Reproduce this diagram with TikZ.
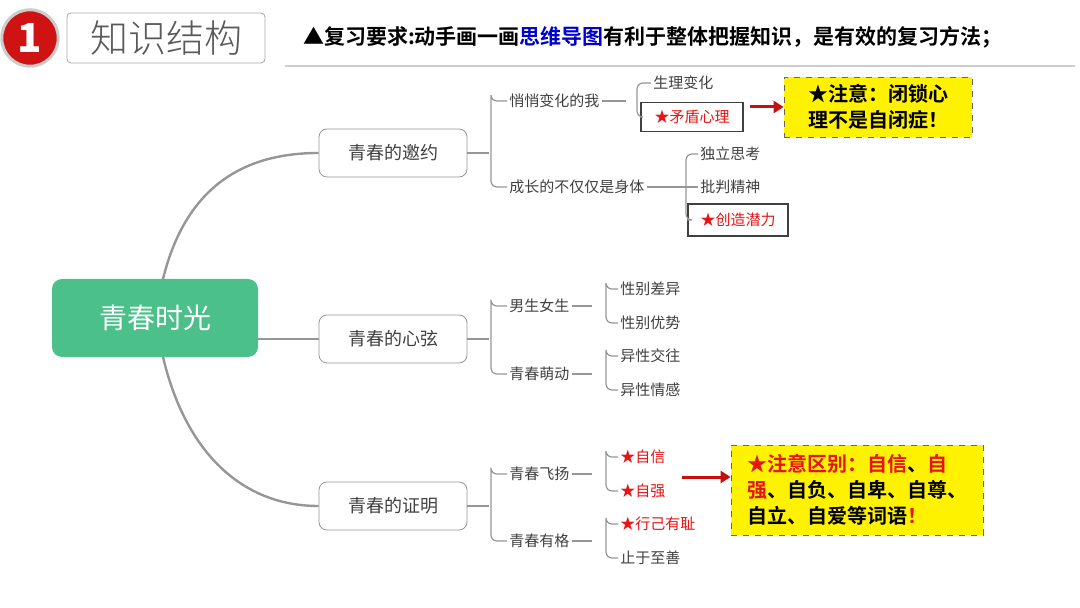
\documentclass[tikz,border=0pt]{standalone}
\usepackage{fontspec}
\setmainfont{Noto Sans CJK SC}
\newfontfamily\cjkb{Noto Sans CJK SC Bold}
\newfontfamily\cjkl{Noto Sans CJK SC Light}
\usetikzlibrary{arrows.meta}
\definecolor{gline}{RGB}{150,150,150}
\definecolor{rootg}{RGB}{76,192,138}
\definecolor{hred}{RGB}{230,20,20}
\begin{document}
\begin{tikzpicture}[x=0.5pt,y=-0.5pt,
  lone/.style={draw=gline,rounded corners=4pt,minimum width=74pt,minimum height=24pt,font=\fontsize{9}{11}\selectfont,text=black!75},
  leaf/.style={font=\fontsize{7.5}{9}\selectfont,text=black!75,inner sep=1pt},
  rleaf/.style={leaf,text=hred},
  rbox/.style={draw=black!75,thick,font=\fontsize{7.5}{9}\selectfont,text=hred,inner sep=0pt},
  brk/.style={draw=gline,line width=0.6pt,rounded corners=3pt},
  note/.style={draw=black!60,dashed,fill=yellow,font=\cjkb\fontsize{10}{13}\selectfont,align=left,inner sep=3pt},
  rarr/.style={-{Triangle[length=5pt,width=6pt]},draw=hred!85!black,line width=1.5pt}]
\useasboundingbox (0,0) rectangle (1080,608);
% header
\node[circle,fill=hred!90!black,draw=gray!40,line width=1.5pt,minimum size=28pt,text=white,font=\bfseries\fontsize{20}{20}\selectfont] (one) at (30,38) {1};
\node[draw=gray!70,rounded corners=2pt,minimum width=99pt,minimum height=25pt,font=\cjkl\fontsize{19}{19}\selectfont,text=black!65] (title) at (166,38) {知识结构};
\node[anchor=west,font=\cjkb\fontsize{10.5}{12}\selectfont] (req) at (296,37) {▲复习要求:动手画一画\textcolor{blue!80!black}{思维导图}有利于整体把握知识，是有效的复习方法；};
\coordinate (ul1) at (285,66); \coordinate (ul2) at (1075,66);
\draw[gray!40,line width=1pt] (ul1) -- (ul2);
% root
\node[fill=rootg,rounded corners=5pt,minimum width=103pt,minimum height=39pt,text=white,font=\fontsize{14}{14}\selectfont] (root) at (155,318) {青春时光};
\node[lone] (a) at (393,153) {青春的邀约};
\node[lone] (b) at (393,339) {青春的心弦};
\node[lone] (c) at (393,506) {青春的证明};
\draw[gline,line width=1.2pt] (163,279) .. controls (185,190) and (240,153) .. (a.west);
\draw[gline,line width=1.2pt] (root.east |- b.west) -- (b.west);
\draw[gline,line width=1.2pt] (163,357) .. controls (185,450) and (240,506) .. (c.west);
% level 2
\node[leaf,anchor=west] (a1) at (507,101) {悄悄变化的我};
\node[leaf,anchor=west] (a2) at (507,187) {成长的不仅仅是身体};
\node[leaf,anchor=west] (b1) at (507,306) {男生女生};
\node[leaf,anchor=west] (b2) at (507,374) {青春萌动};
\node[leaf,anchor=west] (c1) at (507,474) {青春飞扬};
\node[leaf,anchor=west] (c2) at (507,541) {青春有格};
\foreach \p/\u/\d in {a/a1/a2,b/b1/b2,c/c1/c2}{
  \draw[brk] (\p.east) -- +(22,0);
  \draw[brk] (\u.west) -| ++(-16,0) |- (\d.west);
}
% level 3
\node[leaf,anchor=west] (a11) at (651,83) {生理变化};
\node[rbox,minimum width=51pt,minimum height=14.5pt] (a12) at (692,117) {★矛盾心理};
\draw[brk] (a1.east) -- (626,101);
\draw[brk] (a11.west) -| (637,100) |- (a12.west);
\node[leaf,anchor=west] (a21) at (698,154) {独立思考};
\node[leaf,anchor=west] (a22) at (698,187) {批判精神};
\node[rbox,minimum width=50pt,minimum height=16pt] (a23) at (738,220) {★创造潜力};
\draw[brk] (a2.east) -- (a22.west);
\draw[brk] (a21.west) -| (686,180) |- (a23.west);
\node[leaf,anchor=west] (b11) at (618,289) {性别差异};
\node[leaf,anchor=west] (b12) at (618,323) {性别优势};
\node[leaf,anchor=west] (b21) at (618,356) {异性交往};
\node[leaf,anchor=west] (b22) at (618,390) {异性情感};
\node[rleaf,anchor=west] (c11) at (618,457) {★自信};
\node[rleaf,anchor=west] (c12) at (618,491) {★自强};
\node[rleaf,anchor=west] (c21) at (618,524) {★行己有耻};
\node[leaf,anchor=west] (c22) at (618,558) {止于至善};
\foreach \m/\u/\d in {b1/b11/b12,b2/b21/b22,c1/c11/c12,c2/c21/c22}{
  \draw[brk] (\m.east) -- ++(20,0);
  \draw[brk] (\u.west) -| ++(-12,0) |- (\d.west);
}
% notes
\node[note,minimum width=94pt,minimum height=30pt] (n1) at (878,107) {★注意：闭锁心\\理不是自闭症！};
\coordinate (s1) at (750,107);
\draw[rarr] (s1) -- (n1.west);
\node[note,minimum width=126pt,minimum height=45pt] (n2) at (857,490) {\textcolor{hred}{★注意区别：自信}、\textcolor{hred}{自}\\\textcolor{hred}{强}、自负、自卑、自尊、\\自立、自爱等词语\textcolor{hred}{！}};
\coordinate (s2) at (682,477);
\draw[rarr] (s2) -- (n2.west |- s2);
\end{tikzpicture}
\end{document}
